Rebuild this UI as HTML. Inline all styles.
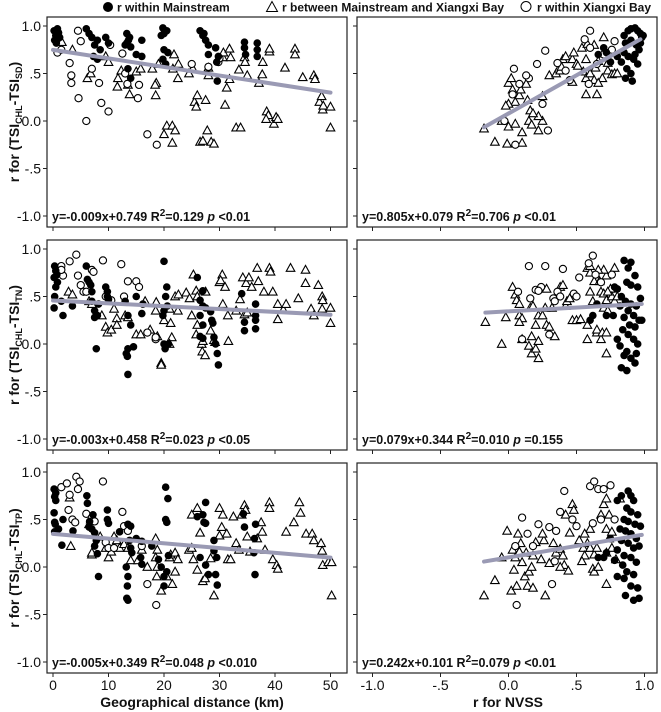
<!DOCTYPE html>
<html><head><meta charset="utf-8"><style>
html,body{margin:0;padding:0;background:#fff;}
svg{display:block;font-family:"Liberation Sans",Arial,sans-serif;}
</style></head><body>
<svg id="chart" width="661" height="712" viewBox="0 0 661 712" xmlns="http://www.w3.org/2000/svg"></svg>
<script>
// ---------- data: each panel [x,y] pairs per series ----------
const p1Main=[[0.2,0.95],[0.5,0.9],[0.8,0.97],[1,0.93],[0.3,0.85],[1.2,0.88],[0.6,0.82],[6,0.97],[6.5,0.92],[7,0.88],[7.5,0.8],[8,0.85],[8.5,0.75],[7.3,0.68],[9.5,0.88],[10,0.82],[8,0.65],[13.3,0.92],[13.3,0.82],[13,0.8],[13.6,0.85],[13.8,0.88],[14,0.78],[16,0.85],[16,0.68],[15,0.7],[14,0.45],[13.5,0.55],[19.8,0.98],[20,0.92],[20.5,0.95],[19.5,0.9],[20,0.75],[19.8,0.65],[20.3,0.6],[20.7,0.72],[26.5,0.95],[27,0.9],[27.5,0.85],[28,0.8],[28,0.7],[27.2,0.92],[29.3,0.77],[29.5,0.62],[29.6,0.42],[29.8,0.68],[34.5,0.83],[34.5,0.77],[34.7,0.7],[36.8,0.82],[36.8,0.75],[36.8,0.68]];
const p1Bay=[[0.8,0.72],[1.5,0.75],[3,0.61],[3.3,0.48],[3.3,0.4],[4.5,0.95],[5,0.84],[4.6,0.24],[6,0.0],[7,0.55],[8.3,0.4],[8.7,0.19],[10,0.1],[12.5,0.71],[13.4,0.39],[13,0.5],[15.3,0.24],[15.5,0.38],[17,-0.14],[18.7,-0.25],[25,0.6],[29.8,0.62],[30,0.66],[28,0.57],[10.3,0.8]];
const p1Between=[[1.6,0.83],[3.5,0.75],[6.2,0.45],[6.8,0.5],[9.5,0.68],[10,0.62],[11.6,0.36],[11.7,0.45],[12.3,0.53],[13.5,0.38],[13.8,0.28],[15,0.52],[15.8,0.55],[17.9,0.55],[18.6,0.4],[18.5,0.27],[18.4,0.38],[19,0.6],[20,-0.14],[20.5,-0.05],[21.5,-0.05],[21.5,-0.23],[22,-0.1],[21.8,0.7],[21.6,0.55],[22.5,0.45],[22.6,0.6],[24.5,0.5],[25.2,0.55],[25.5,0.2],[26,0.27],[25.8,0.15],[26.5,-0.22],[27,-0.21],[27.5,0.22],[28,0.48],[28,0.56],[28.5,-0.22],[29,-0.24],[27.8,-0.1],[30.6,0.67],[30.7,0.72],[31,0.17],[31.3,0.35],[31.8,0.44],[31.8,0.76],[32,0.67],[33,-0.07],[33.8,-0.07],[33.5,0.54],[34.5,0.67],[34.6,0.62],[35,0.48],[37.1,0.4],[37.7,0.49],[37.8,0.62],[38.5,0.1],[38.8,0.06],[38.4,0.02],[39,0.73],[39,0.76],[39.8,-0.03],[40.2,0.04],[40.5,0.02],[41.8,0.56],[43.6,0.76],[43.6,0.7],[45,0.46],[47,0.48],[47.2,0.44],[48,0.2],[48.4,0.26],[48.6,0.12],[48.7,0.16],[50,0.15],[50,-0.07]];

const p2Main=[[0.85,0.9],[0.88,0.95],[0.9,0.97],[0.93,0.98],[0.95,0.95],[0.97,0.92],[0.98,0.88],[0.86,0.82],[0.9,0.85],[0.94,0.8],[0.96,0.75],[0.85,0.72],[0.88,0.68],[0.92,0.65],[0.95,0.6],[0.83,0.62],[0.87,0.55],[0.9,0.5],[0.86,0.45],[0.91,0.42],[0.8,0.68],[0.7,0.77],[0.72,0.72],[0.66,0.7],[0.75,0.62],[0.93,0.7],[0.97,0.82],[0.99,0.9]];
const p2Bay=[[0.6,0.95],[0.56,0.86],[0.6,0.77],[0.78,0.84],[0.27,0.74],[0.04,0.55],[0.21,0.6],[0.42,0.53],[0.08,0.39],[0.03,0.28],[0.15,0.45],[0.25,0.18],[0.29,-0.1],[0.05,-0.25],[-0.03,0.0],[0.13,0.48],[0.45,0.43],[0.59,0.39],[0.36,0.61],[0.7,0.7],[0.76,0.75],[0.65,0.6]];
const p2Between=[[-0.18,-0.08],[-0.1,-0.22],[-0.01,-0.24],[0.1,-0.23],[-0.05,0.0],[0.0,-0.06],[0.05,-0.03],[0.1,-0.12],[0.15,0.0],[0.22,-0.1],[0.17,-0.04],[0.25,0.0],[0.22,0.05],[0.05,0.2],[0.0,0.4],[0.03,0.33],[0.02,0.45],[0.08,0.27],[0.13,0.39],[0.09,0.33],[0.14,0.22],[0.0,0.18],[0.16,0.11],[0.18,0.08],[-0.02,0.16],[0.25,0.26],[0.3,0.48],[0.35,0.5],[0.37,0.55],[0.38,0.53],[0.4,0.65],[0.42,0.68],[0.39,0.57],[0.47,0.41],[0.47,0.65],[0.48,0.72],[0.5,0.6],[0.51,0.58],[0.55,0.52],[0.57,0.28],[0.57,0.45],[0.6,0.5],[0.63,0.43],[0.65,0.28],[0.57,0.65],[0.54,0.77],[0.58,0.81],[0.64,0.56],[0.66,0.63],[0.73,0.53],[0.76,0.49],[0.78,0.5],[0.8,0.5],[0.7,0.88],[0.63,0.8],[0.69,0.45],[0.66,0.4],[0.73,0.61]];

const p3Main=[[0.3,0.82],[0.5,0.77],[0.7,0.73],[0.2,0.7],[0.5,0.6],[0.8,0.65],[0.3,0.5],[0.2,0.38],[1.8,0.3],[1.5,0.45],[3.5,0.4],[6,0.82],[6.2,0.68],[6.5,0.65],[6.8,0.62],[7,0.55],[7,0.45],[7.5,0.35],[8,0.3],[8.2,0.42],[7.5,0.28],[7.8,-0.05],[9.5,0.6],[9.8,0.55],[10,0.47],[9.8,0.5],[13,0.45],[13.5,0.3],[14,0.2],[13.2,-0.1],[13.5,-0.05],[14.5,-0.03],[13.4,-0.13],[13.5,-0.32],[15,0.5],[16.2,0.42],[16,0.32],[20,0.87],[20.5,0.6],[20.3,0.5],[20.6,0.4],[20,0.35],[19.8,0.3],[20,0.0],[20.2,-0.05],[20.8,0.0],[26,0.7],[27,0.56],[26.5,0.46],[27,0.4],[27.5,0.38],[26.5,0.3],[27,0.2],[26.5,0.08],[27,0.06],[28.4,0.34],[28.6,0.25],[28.8,0.22],[29,0.07],[29.3,0.0],[29.6,-0.1],[29.8,-0.22],[34,0.53],[34.5,0.23],[34.5,0.14],[36.5,0.42],[36.5,0.3],[36.5,0.25],[36.5,0.16]];
const p3Bay=[[1.5,0.82],[1.8,0.72],[1.5,0.78],[3,0.87],[4.2,0.94],[4.5,0.72],[5,0.62],[5.5,0.55],[6,0.55],[7,0.78],[7.3,0.76],[9,0.88],[9.5,0.5],[10.5,0.46],[12.3,0.84],[12.8,0.5],[13.5,0.66],[15,0.66],[15.5,0.6],[17,0.12],[18.5,0.05],[18.5,0.07]];
const p3Between=[[2.8,0.55],[3.5,0.52],[6.5,0.45],[7,0.42],[8.8,0.3],[9.5,0.18],[9.8,0.12],[10.5,0.15],[11,0.37],[11.5,0.27],[11.5,0.2],[13,0.3],[13.5,0.28],[15,0.1],[15.8,0.1],[16.6,0.45],[17.5,0.15],[18.5,0.35],[18.8,0.08],[18.6,0.44],[19.5,-0.2],[19.5,-0.22],[20,0.25],[21,0.37],[21.2,0.22],[21.4,0.07],[21,0.0],[22,0.5],[22.6,0.52],[22.5,0.35],[24,0.54],[24.6,0.48],[25.3,0.73],[25.8,0.56],[26,0.5],[25,0.3],[26,0.2],[25.8,0.1],[26.8,0.0],[26.9,-0.08],[27.4,-0.12],[27,0.03],[27.5,0.55],[28.4,0.14],[29,0.04],[29.2,0.02],[30,0.65],[30.5,0.73],[30.2,0.67],[31,0.6],[30.6,0.42],[31.5,0.3],[31.6,0.03],[33,0.35],[33.7,0.47],[34.5,0.31],[35,0.33],[34.2,0.7],[34.8,0.64],[35.3,0.7],[35.8,0.6],[36.8,0.8],[37,0.66],[38,0.55],[39,0.8],[39.2,0.76],[39.6,0.55],[40.5,0.42],[40.5,0.26],[41.5,0.36],[42,0.42],[42.8,0.8],[44.2,0.48],[45.5,0.78],[45.5,0.64],[46.5,0.37],[47,0.3],[47.8,0.62],[48.5,0.5],[48.6,0.46],[48.5,0.37],[50,0.38],[50,0.22]];

const p4Main=[[0.85,0.88],[0.9,0.86],[0.88,0.8],[0.93,0.72],[0.87,0.65],[0.9,0.62],[0.95,0.6],[0.8,0.58],[0.83,0.5],[0.86,0.45],[0.9,0.42],[0.94,0.4],[0.97,0.48],[0.82,0.4],[0.88,0.35],[0.92,0.3],[0.96,0.25],[0.85,0.28],[0.89,0.2],[0.93,0.18],[0.98,0.25],[0.84,0.15],[0.8,0.05],[0.82,-0.02],[0.88,0.1],[0.92,0.05],[0.95,0.0],[0.87,-0.08],[0.9,-0.15],[0.93,-0.2],[0.85,-0.12],[0.83,-0.25],[0.87,-0.28],[0.94,-0.1],[0.78,0.6],[0.77,0.3],[0.72,0.3],[0.65,0.42],[0.62,0.3],[0.6,0.25]];
const p4Bay=[[0.15,0.82],[0.27,0.82],[0.4,0.79],[0.59,0.85],[0.62,0.93],[0.64,0.73],[0.76,0.73],[0.52,0.7],[0.24,0.6],[0.2,0.57],[0.07,0.55],[0.22,0.56],[0.16,0.48],[0.33,0.48],[0.34,0.45],[0.48,0.53],[0.36,0.55],[0.38,0.5],[0.3,0.1],[0.1,0.05],[0.68,0.65],[0.5,0.5]];
const p4Between=[[-0.17,0.23],[-0.05,0.0],[-0.02,0.28],[0.03,0.6],[0.05,0.52],[0.06,0.46],[0.08,0.42],[0.08,0.3],[0.1,0.27],[0.08,0.23],[0.1,0.05],[0.15,-0.02],[0.17,0.08],[0.17,-0.1],[0.2,-0.05],[0.22,-0.15],[0.22,0.03],[0.2,0.2],[0.16,0.38],[0.18,0.4],[0.22,0.3],[0.25,0.3],[0.27,0.38],[0.28,0.2],[0.3,0.18],[0.34,0.08],[0.28,0.58],[0.32,0.38],[0.38,0.6],[0.4,0.62],[0.42,0.4],[0.43,0.45],[0.45,0.48],[0.47,0.25],[0.5,0.25],[0.53,0.26],[0.58,0.2],[0.6,0.55],[0.63,0.66],[0.58,0.8],[0.6,0.75],[0.68,0.55],[0.7,0.53],[0.72,0.46],[0.7,0.38],[0.73,0.35],[0.6,0.82],[0.67,0.66],[0.75,0.58],[0.72,0.72],[0.7,0.78],[0.66,0.78],[0.78,0.8],[0.76,0.5],[0.78,0.45],[0.68,0.05],[0.65,0.12],[0.65,0.15],[0.69,0.12],[0.72,0.12],[0.72,-0.1],[0.8,0.5],[0.73,0.55],[0.58,0.05],[0.62,0.45]];

const p5Main=[[0.2,0.82],[0.5,0.78],[0.3,0.74],[0.5,0.7],[0.2,0.57],[0.3,0.47],[0.4,0.45],[1,0.4],[1.8,0.5],[1.6,0.23],[0.3,0.37],[3.6,0.38],[6.1,0.75],[6.2,0.67],[6.6,0.48],[6.5,0.42],[7,0.4],[7.5,0.36],[7.8,0.28],[7.5,0.22],[8,0.14],[8.2,-0.1],[7.2,0.55],[9.8,0.6],[9.8,0.5],[10,0.46],[12,0.37],[13.5,0.45],[14,0.43],[13.8,0.28],[13.2,0.0],[13.5,-0.1],[14,0.2],[14.2,0.15],[13.4,-0.2],[13.3,-0.33],[13.5,-0.35],[15,0.3],[16,0.27],[15.8,0.1],[16,0.03],[17.8,0.22],[19,0.08],[19.5,0.0],[20,-0.1],[20,-0.2],[20.3,0.5],[20.5,0.47],[20.3,0.84],[20.7,0.72],[20.5,-0.05],[20.8,0.12],[26,0.53],[27,0.55],[27.2,0.47],[27.5,0.46],[27.5,0.68],[26.5,0.1],[27.5,0.02],[28,-0.08],[29,0.28],[29,0.17],[29.5,0.1],[29.3,-0.08],[29.6,-0.19],[34.3,0.56],[34.5,0.42],[36.5,0.45],[36.3,0.3],[36.2,0.15],[36.4,-0.08]];
const p5Bay=[[1.5,0.84],[3,0.76],[4.2,0.95],[4.8,0.9],[4.5,0.82],[2.8,0.6],[3.5,0.5],[4,0.47],[6,0.56],[7,0.52],[7.5,0.48],[9.5,0.26],[10,0.2],[11,0.2],[12.5,0.58],[12.8,0.43],[13.5,0.38],[16,0.22],[17,-0.18],[18.6,-0.4],[9,0.9],[2.5,0.88]];
const p5Between=[[3,0.73],[3.2,0.22],[6.8,0.5],[6.5,0.45],[7,0.13],[7,0.15],[8.5,0.32],[9.5,0.2],[10,0.1],[10.5,0.16],[11,0.32],[11.5,0.28],[12,0.2],[12.8,0.24],[13.5,0.2],[14,0.07],[15.3,0.07],[16,0.18],[17,0.0],[18.5,0.3],[18.8,0.18],[18.5,0.1],[18.7,-0.1],[18.8,0.0],[19.5,-0.25],[20.5,-0.1],[21,0.1],[21.2,0.13],[21.5,-0.18],[22,0.15],[22,-0.05],[22.5,0.08],[24.5,0.18],[25,0.2],[25.3,0.08],[25,0.55],[26,0.62],[26.5,0.36],[26,-0.03],[27,-0.15],[27.4,-0.12],[28.4,0.09],[29,-0.3],[30,0.33],[30.4,0.42],[30,0.62],[30.6,0.55],[31.3,0.35],[31.5,0.08],[32,0.08],[32.5,0.53],[33,0.25],[33.5,0.18],[34,0.55],[34.5,0.65],[34.7,0.6],[35,0.32],[35.5,0.16],[36.8,0.3],[37.5,0.47],[37.7,0.37],[38.2,0.18],[39,0.68],[39,0.62],[39.6,0.08],[40.3,0.02],[40.5,-0.02],[42,0.37],[43.4,0.47],[44.4,0.68],[44.6,0.57],[45.6,0.35],[46.7,0.35],[47,0.28],[48.3,0.25],[48.5,0.17],[48.6,0.02],[49.6,0.05],[50.2,0.05],[50.2,-0.3]];

const p6Main=[[0.88,0.8],[0.9,0.75],[0.92,0.7],[0.87,0.62],[0.9,0.58],[0.95,0.55],[0.85,0.5],[0.88,0.48],[0.93,0.45],[0.97,0.43],[0.82,0.4],[0.86,0.38],[0.9,0.35],[0.94,0.3],[0.83,0.28],[0.88,0.25],[0.92,0.2],[0.96,0.22],[0.8,0.18],[0.85,0.12],[0.9,0.1],[0.94,0.05],[0.84,0.02],[0.87,-0.05],[0.92,-0.08],[0.8,-0.1],[0.85,-0.12],[0.9,-0.2],[0.95,-0.22],[0.86,-0.3],[0.92,-0.35],[0.96,-0.33],[0.78,0.07],[0.72,0.15],[0.7,0.1],[0.66,0.1],[0.75,0.3],[0.8,0.7],[0.83,0.75]];
const p6Bay=[[0.1,0.52],[0.14,0.35],[0.22,0.45],[0.35,0.38],[0.41,0.8],[0.38,0.58],[0.6,0.85],[0.63,0.9],[0.66,0.82],[0.7,0.82],[0.75,0.86],[0.62,0.46],[0.5,0.43],[0.47,0.5],[0.34,0.06],[0.32,-0.18],[0.06,-0.4],[0.05,0.22],[0.18,0.22],[0.3,0.42],[0.68,0.5],[0.78,0.5]];
const p6Between=[[-0.18,-0.3],[-0.1,-0.14],[-0.05,0.1],[-0.01,0.38],[0.03,0.18],[0.05,0.1],[0.04,-0.03],[0.07,0.35],[0.09,0.25],[0.08,0.16],[0.1,0.05],[0.12,-0.1],[0.14,-0.2],[0.15,-0.05],[0.17,0.0],[0.18,0.12],[0.2,0.26],[0.13,0.15],[0.02,-0.25],[0.06,-0.2],[0.18,-0.22],[0.24,0.08],[0.26,0.28],[0.25,0.35],[0.27,-0.3],[0.3,0.04],[0.33,0.25],[0.35,0.15],[0.38,0.19],[0.4,0.12],[0.41,0.02],[0.38,0.0],[0.44,-0.04],[0.45,0.36],[0.42,0.55],[0.47,0.66],[0.48,0.6],[0.52,0.28],[0.55,0.2],[0.56,0.12],[0.54,0.06],[0.58,0.25],[0.6,0.2],[0.63,0.13],[0.62,-0.02],[0.63,-0.05],[0.65,0.2],[0.68,0.55],[0.7,0.66],[0.72,0.72],[0.72,0.4],[0.74,0.3],[0.76,0.2],[0.72,0.15],[0.66,0.0],[0.72,-0.18],[0.82,0.72],[0.74,0.55],[0.76,0.37],[0.79,0.08],[0.6,0.4],[0.56,0.35]];

const slopes=[-0.009,0.805,-0.003,0.079,-0.005,0.242];
const intercepts=[0.749,0.079,0.458,0.344,0.349,0.101];
const fitRanges=[[0,50],[-0.18,0.97],[0,50],[-0.17,0.98],[0,50],[-0.18,0.98]];
const yTicks=[1.0,0.5,0.0,-0.5,-1.0];
const yTickLabels=["1.0",".5","0.0","-.5","-1.0"];
const xTicksL=[0,10,20,30,40,50];
const xTickLabelsL=["0","10","20","30","40","50"];
const xTicksR=[-1.0,-0.5,0.0,0.5,1.0];
const xTickLabelsR=["-1.0","-.5","0.0",".5","1.0"];
const eqText=[["y=-0.009x+0.749 R","=0.129 ","p"," <0.01"],["y=0.805x+0.079 R","=0.706 ","p"," <0.01"],["y=-0.003x+0.458 R","=0.023 ","p"," <0.05"],["y=0.079x+0.344 R","=0.010 ","p"," =0.155"],["y=-0.005x+0.349 R","=0.048 ","p"," <0.010"],["y=0.242x+0.101 R","=0.079 ","p"," <0.01"]];
const yTitles=["SD","TN","TP"];

const NS="http://www.w3.org/2000/svg";
const svg=document.getElementById('chart');
function mk(tag,attrs,parent){const e=document.createElementNS(NS,tag);for(const k in attrs)e.setAttribute(k,attrs[k]);(parent||svg).appendChild(e);return e;}

const rowsTop=[17,240,463];
const colX=[[47,347],[357,657]];
function xL(v){return 53+5.55*v;}
function xR(v){return 508.5+136*v;}
function yS(top,v){return top+104-95*v;}

const panels=[[p1Main,p1Bay,p1Between],[p2Main,p2Bay,p2Between],[p3Main,p3Bay,p3Between],[p4Main,p4Bay,p4Between],[p5Main,p5Bay,p5Between],[p6Main,p6Bay,p6Between]];

function tri(g,cx,cy){
  const t=mk('polygon',{points:`${cx},${cy-4.5} ${cx-4.3},${cy+3.3} ${cx+4.3},${cy+3.3}`,fill:'#fff',stroke:'#000','stroke-width':1.1},g);
  
  
}

for(let i=0;i<6;i++){
  const r=Math.floor(i/2), c=i%2, top=rowsTop[r];
  const [x0,x1]=colX[c];
  const xs=c===0?xL:xR;
  const g=mk('g',{});
  
  
  const frame=mk('rect',{x:x0,y:top,width:x1-x0,height:210,fill:'#fff',stroke:'#222','stroke-width':1.2},g);
  
  
  // y ticks
  yTicks.forEach((v,k)=>{
    const y=yS(top,v);
    mk('line',{x1:x0-4,x2:x0,y1:y,y2:y,stroke:'#222','stroke-width':1},g);
    if(c===0){
      const t=mk('text',{x:x0-6,y:y+5,'text-anchor':'end','font-size':14,fill:'#111'},g);
      t.textContent=yTickLabels[k];
      
      
    }
  });
  const xt=c===0?xTicksL:xTicksR, xl=c===0?xTickLabelsL:xTickLabelsR;
  xt.forEach((v,k)=>{
    const x=xs(v);
    mk('line',{x1:x,x2:x,y1:top+210,y2:top+214,stroke:'#222','stroke-width':1},g);
    if(r===2){
      const t=mk('text',{x:x,y:690,'text-anchor':'middle','font-size':14,fill:'#111'},g);
      t.textContent=xl[k];
      
      
    }
  });
  const [main,bay,betw]=panels[i];
  betw.forEach(p=>tri(g,xs(p[0]),yS(top,p[1])));
  bay.forEach(p=>{
    const e=mk('circle',{cx:xs(p[0]),cy:yS(top,p[1]),r:3.6,fill:'#fff',stroke:'#000','stroke-width':1.1},g);
    
    
  });
  main.forEach(p=>{
    const e=mk('circle',{cx:xs(p[0]),cy:yS(top,p[1]),r:3.8,fill:'#000'},g);
    
    
  });
  const [a,b]=fitRanges[i];
  const ln=mk('line',{x1:xs(a),y1:yS(top,intercepts[i]+slopes[i]*a),x2:xs(b),y2:yS(top,intercepts[i]+slopes[i]*b),stroke:'#9a9ab4','stroke-width':4,'stroke-linecap':'round'},g);
  
  
  const eq=mk('text',{x:x0+5,y:top+204,'font-size':12.5,'font-weight':'bold',fill:'#111'},g);
  
  
  const q=eqText[i];
  const s1=mk('tspan',{},eq);s1.textContent=q[0];
  const s2=mk('tspan',{dy:-5,'font-size':10},eq);s2.textContent='2';
  const s3=mk('tspan',{dy:5},eq);s3.textContent=q[1];
  const s4=mk('tspan',{'font-style':'italic'},eq);s4.textContent=q[2];
  const s5=mk('tspan',{},eq);s5.textContent=q[3];
  if(c===0){
    const cy=top+105;
    const yt=mk('text',{x:0,y:0,transform:`translate(19,${cy}) rotate(-90)`,'text-anchor':'middle','font-size':14,'font-weight':'bold',fill:'#111'},svg);
    
    
    const a1=mk('tspan',{},yt);a1.textContent='r for (TSI';
    const a2=mk('tspan',{dy:3,'font-size':9},yt);a2.textContent='CHL';
    const a3=mk('tspan',{dy:-3},yt);a3.textContent='-TSI';
    const a4=mk('tspan',{dy:3,'font-size':9},yt);a4.textContent=yTitles[r];
    const a5=mk('tspan',{dy:-3},yt);a5.textContent=')';
  }
}
// legend
const lg=mk('g',{});


mk('circle',{cx:108,cy:7,r:5,fill:'#000'},lg);
let t=mk('text',{x:117,y:11.5,'font-size':12,'font-weight':'bold',fill:'#111'},lg);t.textContent='r within Mainstream';


mk('polygon',{points:'272,1.5 266.5,11.5 277.5,11.5',fill:'#fff',stroke:'#000','stroke-width':1},lg);
t=mk('text',{x:282,y:11.5,'font-size':12,'font-weight':'bold',fill:'#111'},lg);t.textContent='r between Mainstream and Xiangxi Bay';


mk('circle',{cx:526,cy:6.5,r:5,fill:'#fff',stroke:'#000','stroke-width':1},lg);
t=mk('text',{x:537,y:11.5,'font-size':12,'font-weight':'bold',fill:'#111'},lg);t.textContent='r within Xiangxi Bay';


// x titles
t=mk('text',{x:192,y:707,'text-anchor':'middle','font-size':14,'font-weight':'bold',fill:'#111'});t.textContent='Geographical distance (km)';


t=mk('text',{x:508,y:707,'text-anchor':'middle','font-size':14,'font-weight':'bold',fill:'#111'});t.textContent='r for NVSS';


</script>
</body></html>
